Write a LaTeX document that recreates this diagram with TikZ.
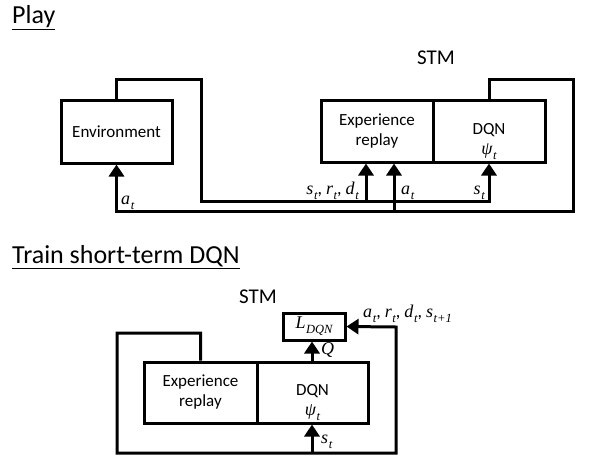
\documentclass[tikz,border=0pt]{standalone}
\usepackage{fontspec}
\setmainfont{Carlito}
\newfontfamily\mathtxt{Liberation Serif}
\newcommand\mvar[2]{{\mathtxt\itshape #1\kern0.6pt\raisebox{-0.28em}{\fontsize{12.5}{13}\selectfont #2}}}
\usetikzlibrary{arrows.meta}
\begin{document}
\begin{tikzpicture}[x=1pt,y=-1pt,
  wire/.style={line width=3pt},
  arr/.style={wire,-{Triangle[width=15pt,length=12pt]}},
  box/.style={draw,line width=3pt,inner sep=0pt,align=center,font=\fontsize{17}{20}\selectfont},
  txt/.style={inner sep=0pt,align=center,font=\fontsize{17}{20}\selectfont},
  lbl/.style={inner sep=1pt,font=\fontsize{18}{20}\selectfont},
  ttl/.style={inner sep=0pt,font=\fontsize{26}{30}\selectfont},
  stm/.style={inner sep=0pt,font=\fontsize{21}{24}\selectfont}]
\useasboundingbox (0,0) rectangle (598,467);
% ---------- Play ----------
\node[ttl,anchor=south west] (t1) at (12,30) {\underline{Play}};
\node[stm] (stm1) at (436,58) {STM};
\node[box,minimum width=111pt,minimum height=63pt] (env) at (116.5,131.5) {Environment};
\node[box,minimum width=112pt,minimum height=62pt] (exp) at (377,131) {Experience\\replay};
\node[box,minimum width=112pt,minimum height=62pt] (dqn) at (489,131) {};
\node[txt] (dqnt) at (489,142) {DQN\\{\fontsize{18}{20}\selectfont\mvar{ψ}{t}}};
\coordinate (b1) at (366,201);
\coordinate (b2) at (394,211);
\draw[arr] (env.north) -- (env.north |- 0,79) -- (201,79) -- (201,201) -- (dqn.south |- b1) -- (dqn.south);
\draw[arr] (b1) -- (b1 |- exp.south);
\draw[arr] (dqn.north) -- (dqn.north |- 0,79) -- (573,79) -- (573,211) -- (env.south |- b2) -- (env.south);
\draw[arr] (b2) -- (b2 |- exp.south);
\node[lbl,anchor=south west] (la1) at (120,211) {\mvar{a}{t}};
\node[lbl,anchor=south east] (lsrd) at (360,201) {\mvar{s}{t}, \mvar{r}{t}, \mvar{d}{t}};
\node[lbl,anchor=south west] (la2) at (400,201) {\mvar{a}{t}};
\node[lbl,anchor=south east] (ls1) at (486,201) {\mvar{s}{t}};
% ---------- Train ----------
\node[ttl,anchor=south west] (t2) at (12,269) {\underline{Train short-term DQN}};
\node[stm] (stm2) at (258,297) {STM};
\node[box,minimum width=113pt,minimum height=61pt] (exp2) at (200.5,392.5) {Experience\\replay};
\node[box,minimum width=111pt,minimum height=61pt] (dqn2) at (312.5,392.5) {};
\node[txt] (dqn2t) at (312.5,403) {DQN\\{\fontsize{18}{20}\selectfont\mvar{ψ}{t}}};
\node[box,minimum width=62pt,minimum height=27pt] (loss) at (314,326.5) {{\fontsize{18}{20}\selectfont\mvar{L}{DQN}}};
\coordinate (c1) at (312,453);
\draw[arr] (exp2.north) -- (exp2.north |- 0,333) -- (117,333) -- (117,453) -- (396,453) -- (396,327) -- (loss.east);
\draw[arr] (c1) -- (c1 |- dqn2.south);
\draw[arr] (c1 |- dqn2.north) -- (c1 |- loss.south);
\node[lbl,anchor=west] (lq) at (320,350) {{\mathtxt\itshape Q}};
\node[lbl,anchor=west] (ls2) at (320,442) {\mvar{s}{t}};
\node[lbl,anchor=west] (lall) at (362,314) {\mvar{a}{t}, \mvar{r}{t}, \mvar{d}{t}, \mvar{s}{t+1}};
\end{tikzpicture}
\end{document}
